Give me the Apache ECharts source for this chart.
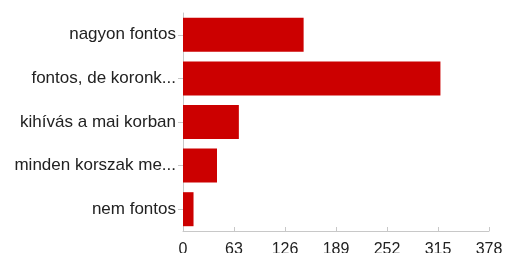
<!DOCTYPE html>
<html>
<head>
<meta charset="utf-8">
<script src="https://cdn.jsdelivr.net/npm/echarts@6/dist/echarts.min.js"></script>
<style>
  html, body { margin: 0; padding: 0; background: #fff; }
  #chart { width: 505px; height: 253px; }
</style>
</head>
<body>
<div id="chart"></div>
<script>
// answers, top to bottom
var categories = ['nagyon fontos', 'fontos, de koronk...', 'kihívás a mai korban', 'minden korszak me...', 'nem fontos']
var counts = [149, 318, 69, 42, 13]
var xTicks = [0, 63, 126, 189, 252, 315, 378]

var chart = echarts.init(document.getElementById('chart'))
chart.setOption({
  backgroundColor: '#ffffff',
  animation: false,
  grid: {
    left: 183,
    right: 16,
    top: 13,
    bottom: 22,
    outerBoundsMode: 'none'
  },
  xAxis: {
    type: 'value',
    min: xTicks[0],
    max: xTicks[xTicks.length - 1],
    interval: xTicks[1] - xTicks[0],
    axisLine: { show: true, lineStyle: { color: '#c8c8c8' } },
    axisTick: { show: true, inside: true, length: 4, lineStyle: { color: '#c8c8c8' } },
    splitLine: { show: false },
    axisLabel: {
      color: '#222',
      fontSize: 16,
      margin: 11,
      fontFamily: 'Liberation Sans, Arial, sans-serif'
    }
  },
  yAxis: {
    type: 'category',
    inverse: true,
    data: categories,
    axisLine: { show: true, lineStyle: { color: '#c8c8c8' } },
    axisTick: { show: true, alignWithLabel: true, length: 5, lineStyle: { color: '#c8c8c8' } },
    axisLabel: {
      color: '#222',
      fontSize: 17,
      margin: 7,
      fontFamily: 'Liberation Sans, Arial, sans-serif'
    }
  },
  series: [{
    type: 'bar',
    data: counts,
    barCategoryGap: '22%',
    itemStyle: { color: '#cc0000' }
  }]
})
</script>
</body>
</html>
